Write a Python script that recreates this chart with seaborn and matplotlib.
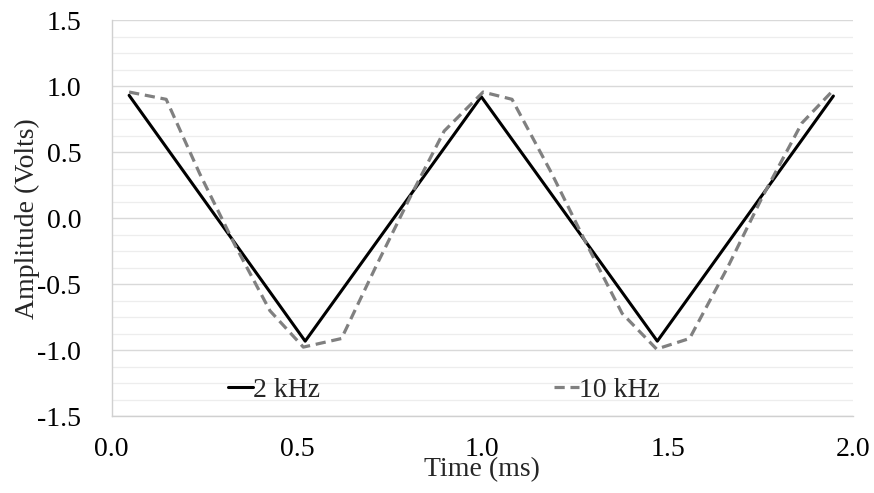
import numpy as np
import pandas as pd
import matplotlib
matplotlib.use("Agg")
import matplotlib.pyplot as plt
import seaborn as sns
from matplotlib.ticker import MultipleLocator

# Data
t_2k = [0.047, 0.522, 0.997, 1.472, 1.947]
v_2k = [0.93, -0.93, 0.92, -0.93, 0.925]

t_10k = [0.047, 0.147, 0.237, 0.332, 0.427, 0.517, 0.620, 0.712, 0.807, 0.897,
         1.002, 1.080, 1.187, 1.282, 1.377, 1.470, 1.559, 1.662, 1.757, 1.862, 1.947]
v_10k = [0.955, 0.90, 0.34, -0.20, -0.70, -0.975, -0.91, -0.37, 0.17, 0.66,
         0.955, 0.90, 0.34, -0.20, -0.72, -0.99, -0.91, -0.37, 0.17, 0.72, 0.97]

labels = ["2 kHz", "10 kHz"]
x_ticks = [0.0, 0.5, 1.0, 1.5, 2.0]
y_ticks = [-1.5, -1.0, -0.5, 0.0, 0.5, 1.0, 1.5]

sns.set_theme(style="white")
plt.rcParams['font.family'] = ['Liberation Serif', 'DejaVu Serif']

FS = 20

fig = plt.figure(figsize=(8.74, 4.93), dpi=100)
ax = fig.add_axes([0.1278, 0.1552, 0.8482, 0.8042])

df1 = pd.DataFrame({"t": t_2k, "v": v_2k})
df2 = pd.DataFrame({"t": t_10k, "v": v_10k})
sns.lineplot(data=df1, x="t", y="v", ax=ax, color="black", linewidth=2.2,
             label=labels[0], sort=False)
sns.lineplot(data=df2, x="t", y="v", ax=ax, color="#808080", linewidth=2.3,
             linestyle=(0, (3.2, 1.8)), label=labels[1], sort=False)

ax.set_xlim(0, 2.0)
ax.set_ylim(-1.5, 1.5)
ax.set_xticks(x_ticks)
ax.set_xticklabels([f"{v:.1f}" for v in x_ticks])
ax.set_yticks(y_ticks)
ax.set_yticklabels([f"{v:.1f}" for v in y_ticks])
ax.yaxis.set_minor_locator(MultipleLocator(0.125))
ax.grid(which="major", axis="y", color="#d9d9d9", linewidth=1.0)
ax.grid(which="minor", axis="y", color="#ededed", linewidth=0.9)
ax.grid(which="major", axis="x", visible=False)
ax.set_axisbelow(True)
ax.tick_params(axis="both", which="both", length=0, labelsize=FS, colors="black")
ax.tick_params(axis="x", pad=15)
ax.tick_params(axis="y", pad=22)

for s in ["top", "right"]:
    ax.spines[s].set_visible(False)
for s in ["left", "bottom"]:
    ax.spines[s].set_color("#d0d0d0")
    ax.spines[s].set_linewidth(1.0)

ax.set_xlabel("Time (ms)", fontsize=FS)
ax.set_ylabel("Amplitude (Volts)", fontsize=FS)
ax.xaxis.set_label_coords(0.5, -0.103)
ax.yaxis.set_label_coords(-0.097, 0.5)

leg = ax.legend(loc="center", bbox_to_anchor=(0.448, 0.067), ncol=2, frameon=False,
                fontsize=FS, handlelength=0.9, handletextpad=0.0, columnspacing=8.4)

fig.savefig("out.png", dpi=100)
